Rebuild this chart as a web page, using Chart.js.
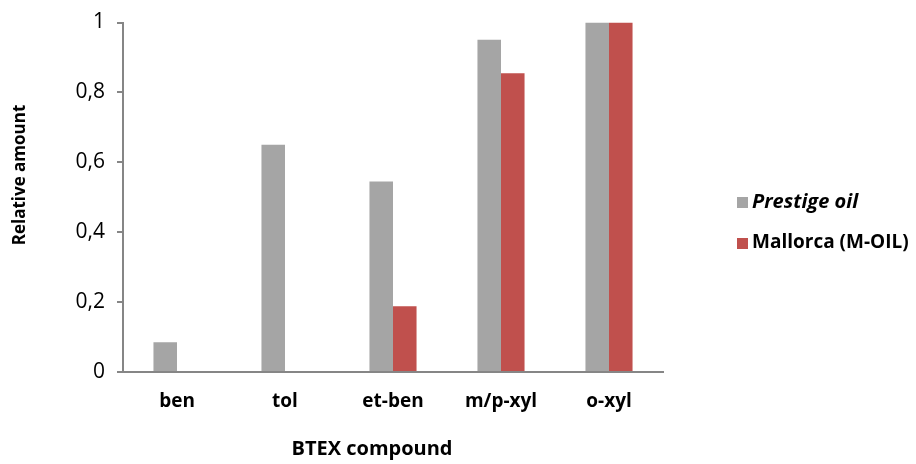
<!DOCTYPE html>
<html>
<head>
<meta charset="utf-8">
<script src="https://cdn.jsdelivr.net/npm/chart.js@4/dist/chart.umd.min.js"></script>
<style>
html,body{margin:0;padding:0;background:#fff;}
#wrap{width:916px;height:464px;position:relative;}
</style>
</head>
<body>
<div id="wrap"><canvas id="c" width="916" height="464"></canvas></div>
<script>
const categories = ["ben", "tol", "et-ben", "m/p-xyl", "o-xyl"];
const prestigeOil = [0.085, 0.65, 0.545, 0.951, 1.0];
const mallorcaOil = [0, 0, 0.188, 0.855, 1.0];
const seriesNames = ["Prestige oil", "Mallorca (M-OIL)"];
const yTicks = [0, 0.2, 0.4, 0.6, 0.8, 1];
const xTitle = "BTEX compound";
const yTitle = "Relative amount";

const FONT = "'Open Sans', 'Noto Sans', sans-serif";
const AXIS = '#868686';

const decorPlugin = {
  id: 'decor',
  afterDraw(chart) {
    const ctx = chart.ctx;
    // legend
    const styles = ['italic bold 20px ', 'bold 19px '];
    const ys = [202, 243];
    chart.data.datasets.forEach((ds, i) => {
      ctx.save();
      ctx.fillStyle = ds.backgroundColor;
      ctx.fillRect(737, ys[i] - 5, 11, 11);
      ctx.fillStyle = '#000';
      ctx.font = styles[i] + FONT;
      ctx.textBaseline = 'middle';
      ctx.textAlign = 'left';
      ctx.fillText(ds.label, 752, ys[i]);
      ctx.restore();
    });
    // axis titles
    ctx.save();
    ctx.fillStyle = '#000';
    ctx.textAlign = 'center';
    ctx.textBaseline = 'middle';
    ctx.font = 'bold 20px ' + FONT;
    ctx.fillText(xTitle, 372, 449);
    ctx.translate(20, 175);
    ctx.rotate(-Math.PI / 2);
    ctx.font = 'bold 17px ' + FONT;
    ctx.fillText(yTitle, 0, 0);
    ctx.restore();
  }
};

new Chart(document.getElementById('c'), {
  type: 'bar',
  data: {
    labels: categories,
    datasets: [
      { label: seriesNames[0], data: prestigeOil, backgroundColor: '#A5A5A5' },
      { label: seriesNames[1], data: mallorcaOil, backgroundColor: '#C0504D' }
    ]
  },
  options: {
    responsive: false,
    animation: false,
    devicePixelRatio: 1,
    layout: { padding: { left: 0, right: 253, top: 21, bottom: 0 } },
    plugins: { legend: { display: false }, tooltip: { enabled: false } },
    datasets: { bar: { categoryPercentage: 0.436, barPercentage: 1.0 } },
    scales: {
      x: {
        grid: { display: false, drawTicks: false },
        border: { display: true, color: AXIS, width: 2 },
        ticks: { color: '#000', font: { family: FONT, size: 19, weight: 'bold' }, padding: 18, maxRotation: 0 },
        title: { display: false },
        afterFit(s) { s.height = 464 - 372; }
      },
      y: {
        min: 0, max: 1,
        afterBuildTicks(s) { s.ticks = yTicks.map(v => ({ value: v })); },
        grid: { display: true, drawOnChartArea: false, tickLength: 6, color: AXIS, lineWidth: 2 },
        border: { display: true, color: AXIS, width: 2 },
        ticks: {
          color: '#000', font: { family: FONT, size: 21, lineHeight: 1 }, padding: 12,
          callback: v => (v === 0 || v === 1) ? String(v) : v.toFixed(1).replace('.', ',')
        },
        title: { display: false },
        afterFit(s) { s.width = 123; }
      }
    }
  },
  plugins: [decorPlugin]
});
</script>
</body>
</html>
